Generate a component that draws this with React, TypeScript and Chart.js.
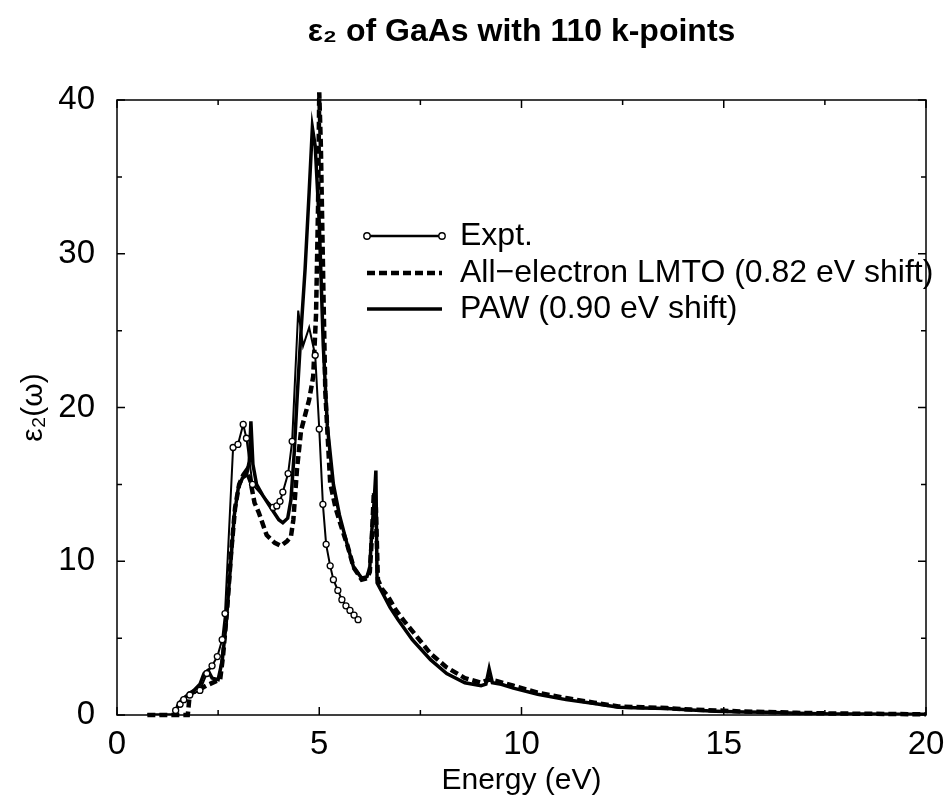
import React, { useEffect, useRef } from "react";
import { Chart, registerables } from "chart.js";

Chart.register(...registerables);

// Experimental spectrum (energy in eV, eps2); markers only where data points were measured
const exptEnergy = [1.45, 1.56, 1.65, 1.8, 2.05, 2.22, 2.35, 2.48, 2.6, 2.67, 2.87, 2.99, 3.12, 3.2, 3.35, 3.86, 3.95, 4.03, 4.1, 4.23, 4.33, 4.48, 4.6, 4.75, 4.9, 5.0, 5.09, 5.17, 5.27, 5.35, 5.46, 5.56, 5.66, 5.76, 5.86, 5.96];
const exptEps2 = [0.3, 0.7, 1.0, 1.3, 1.6, 2.7, 3.2, 3.8, 4.9, 6.6, 17.4, 17.6, 18.9, 18.0, 15.0, 13.5, 13.6, 13.9, 14.5, 15.7, 17.8, 26.3, 24.0, 25.2, 23.4, 18.6, 13.7, 11.1, 9.7, 8.8, 8.1, 7.5, 7.1, 6.8, 6.5, 6.2];
const exptMarked = [true, true, true, true, true, true, true, true, true, true, true, true, true, true, true, true, true, true, true, true, true, false, false, false, true, true, true, true, true, true, true, true, true, true, true, true];

// All-electron LMTO (0.82 eV shift)
const lmtoEnergy = [0.75, 1.75, 1.8, 2.0, 2.2, 2.45, 2.55, 2.62, 2.72, 2.82, 2.92, 3.02, 3.12, 3.2, 3.3, 3.4, 3.5, 3.7, 3.9, 4.05, 4.2, 4.3, 4.36, 4.45, 4.55, 4.65, 4.75, 4.85, 4.92, 4.97, 5.0, 5.04, 5.1, 5.15, 5.2, 5.27, 5.4, 5.55, 5.7, 5.85, 6.05, 6.18, 6.25, 6.3, 6.35, 6.4, 6.45, 6.55, 6.7, 6.9, 7.1, 7.35, 7.75, 8.15, 8.6, 9.0, 9.2, 9.4, 9.8, 10.4, 11.1, 11.8, 12.4, 13.0, 13.6, 14.2, 14.8, 15.5, 16.1, 16.8, 17.7, 18.5, 19.3, 20];
const lmtoEps2 = [0, 0, 1.4, 1.6, 1.9, 2.2, 2.3, 3.8, 6.8, 10.5, 13.5, 15.0, 15.6, 15.9, 15.2, 13.8, 13.2, 11.7, 11.2, 11.0, 11.3, 11.6, 12.7, 16.0, 18.5, 19.5, 20.5, 22.0, 26.0, 33.0, 40.5, 37.0, 28.0, 21.0, 18.5, 15.1, 13.5, 12.2, 11.0, 9.6, 8.8, 8.9, 9.3, 11.5, 14.5, 13.5, 8.8, 8.2, 7.7, 6.8, 6.1, 5.3, 4.0, 3.1, 2.4, 2.1, 2.3, 2.2, 1.9, 1.45, 1.1, 0.8, 0.55, 0.5, 0.45, 0.35, 0.3, 0.22, 0.2, 0.14, 0.1, 0.08, 0.06, 0.05];

// PAW (0.90 eV shift)
const pawEnergy = [0.75, 1.45, 1.5, 1.6, 1.75, 1.9, 2.05, 2.15, 2.25, 2.35, 2.5, 2.6, 2.7, 2.8, 2.9, 3.0, 3.1, 3.2, 3.27, 3.31, 3.36, 3.45, 3.6, 3.8, 4.0, 4.1, 4.22, 4.3, 4.38, 4.45, 4.55, 4.65, 4.75, 4.83, 4.9, 5.0, 5.1, 5.2, 5.35, 5.5, 5.7, 5.85, 6.05, 6.18, 6.25, 6.3, 6.36, 6.4, 6.43, 6.55, 6.75, 6.95, 7.3, 7.75, 8.15, 8.6, 9.0, 9.12, 9.2, 9.28, 9.5, 9.8, 10.4, 11.1, 11.8, 12.4, 13.0, 13.6, 14.2, 14.8, 15.5, 16.1, 16.8, 17.7, 18.5, 19.3, 20];
const pawEps2 = [0, 0, 0.6, 1.0, 1.3, 1.6, 2.0, 2.7, 2.9, 2.4, 2.3, 3.5, 6.0, 9.5, 13.0, 14.8, 15.4, 15.6, 16.5, 19.1, 16.3, 15.0, 14.3, 13.5, 12.7, 12.5, 12.8, 14.0, 17.0, 20.5, 25.0, 29.0, 34.0, 38.2, 37.0, 32.0, 24.0, 18.8, 15.0, 13.0, 11.0, 9.6, 8.9, 9.0, 9.6, 12.0, 14.0, 15.9, 8.6, 8.0, 7.0, 6.2, 4.9, 3.6, 2.7, 2.1, 1.9, 2.0, 3.0, 2.1, 2.0, 1.75, 1.35, 1.0, 0.75, 0.5, 0.45, 0.42, 0.32, 0.25, 0.2, 0.18, 0.12, 0.07, 0.06, 0.05, 0.05];

const xMajorTicks = [0, 5, 10, 15, 20];
const xMinorTicks = [2.5, 7.5, 12.5, 17.5];
const yMajorTicks = [0, 10, 20, 30, 40];
const yMinorTicks = [5, 15, 25, 35];

const titleText = "ε₂ of GaAs with 110 k-points";
const xTitle = "Energy (eV)";
const yTitle = "ε₂(ω)";
const legendLabels = ["Expt.", "All−electron LMTO (0.82 eV shift)", "PAW (0.90 eV shift)"];

const FONT = "'Liberation Sans', Arial, Helvetica, sans-serif";

const toPoints = (xs: number[], ys: number[]) => xs.map((x, i) => ({ x, y: ys[i] }));

// Box frame with inward major/minor ticks on all four sides
const framePlugin = {
  id: "frameTicks",
  beforeDatasetsDraw(chart: any) {
    const { ctx, chartArea: a, scales } = chart;
    const xs = scales.x;
    const ys = scales.y;
    ctx.save();
    ctx.strokeStyle = "#000";
    ctx.lineWidth = 1.5;
    ctx.strokeRect(a.left, a.top, a.right - a.left, a.bottom - a.top);
    const drawX = (v: number, len: number) => {
      const px = xs.getPixelForValue(v);
      ctx.beginPath();
      ctx.moveTo(px, a.bottom);
      ctx.lineTo(px, a.bottom - len);
      ctx.moveTo(px, a.top);
      ctx.lineTo(px, a.top + len);
      ctx.stroke();
    };
    const drawY = (v: number, len: number) => {
      const py = ys.getPixelForValue(v);
      ctx.beginPath();
      ctx.moveTo(a.left, py);
      ctx.lineTo(a.left + len, py);
      ctx.moveTo(a.right, py);
      ctx.lineTo(a.right - len, py);
      ctx.stroke();
    };
    xMajorTicks.forEach((v) => drawX(v, 8));
    xMinorTicks.forEach((v) => drawX(v, 5));
    yMajorTicks.forEach((v) => drawY(v, 8));
    yMinorTicks.forEach((v) => drawY(v, 5));
    ctx.restore();
  },
};

// Legend drawn inside the plot box with the three line samples
const legendPlugin = {
  id: "innerLegend",
  afterDatasetsDraw(chart: any) {
    const { ctx } = chart;
    const x0 = 367;
    const x1 = 442;
    const rows = [236, 273, 309];
    ctx.save();
    ctx.strokeStyle = "#000";
    ctx.lineCap = "butt";

    ctx.lineWidth = 2.5;
    ctx.beginPath();
    ctx.moveTo(x0, rows[0]);
    ctx.lineTo(x1, rows[0]);
    ctx.stroke();
    [x0, x1].forEach((cx) => {
      ctx.beginPath();
      ctx.arc(cx, rows[0], 3.2, 0, Math.PI * 2);
      ctx.fillStyle = "#fff";
      ctx.fill();
      ctx.lineWidth = 1.4;
      ctx.stroke();
    });

    ctx.lineWidth = 4.5;
    ctx.setLineDash([8, 4]);
    ctx.beginPath();
    ctx.moveTo(x0, rows[1]);
    ctx.lineTo(x1, rows[1]);
    ctx.stroke();
    ctx.setLineDash([]);

    ctx.lineWidth = 3.5;
    ctx.beginPath();
    ctx.moveTo(x0, rows[2]);
    ctx.lineTo(x1, rows[2]);
    ctx.stroke();

    ctx.fillStyle = "#000";
    ctx.font = `32px ${FONT}`;
    ctx.textBaseline = "middle";
    ctx.textAlign = "left";
    legendLabels.forEach((t, i) => ctx.fillText(t, 460, rows[i]));
    ctx.restore();
  },
};

export default function App() {
  const canvasRef = useRef<HTMLCanvasElement | null>(null);

  useEffect(() => {
    const canvas = canvasRef.current;
    if (!canvas) return;
    const chart = new Chart(canvas, {
      type: "line",
      data: {
        datasets: [
          {
            label: legendLabels[0],
            data: toPoints(exptEnergy, exptEps2),
            borderColor: "#000",
            borderWidth: 2,
            pointRadius: (c: any) => (exptMarked[c.dataIndex] ? 3 : 0),
            pointBackgroundColor: "#fff",
            pointBorderColor: "#000",
            pointBorderWidth: 1.3,
            tension: 0,
            fill: false,
          },
          {
            label: legendLabels[1],
            data: toPoints(lmtoEnergy, lmtoEps2),
            borderColor: "#000",
            borderWidth: 4.5,
            borderDash: [8, 4],
            pointRadius: 0,
            tension: 0,
            fill: false,
            clip: false,
          },
          {
            label: legendLabels[2],
            data: toPoints(pawEnergy, pawEps2),
            borderColor: "#000",
            borderWidth: 3.5,
            pointRadius: 0,
            tension: 0,
            fill: false,
          },
        ],
      },
      options: {
        animation: false,
        responsive: false,
        devicePixelRatio: 1,
        layout: { padding: { left: 0, right: 21, top: 0, bottom: 0 } },
        plugins: {
          legend: { display: false },
          tooltip: { enabled: false },
          title: {
            display: true,
            text: titleText,
            fullSize: false,
            color: "#000",
            font: { family: FONT, size: 32, weight: "bold", lineHeight: 1.2 },
            padding: { top: 13, bottom: 48.6 },
          },
        },
        scales: {
          x: {
            type: "linear",
            min: 0,
            max: 20,
            grid: { display: false, drawTicks: false },
            border: { display: false },
            afterBuildTicks: (s: any) => {
              s.ticks = xMajorTicks.map((v) => ({ value: v }));
            },
            afterFit: (s: any) => {
              s.height = 89;
              s.paddingLeft = 0;
              s.paddingRight = 0;
            },
            ticks: {
              color: "#000",
              font: { family: FONT, size: 33 },
              padding: 10,
              maxRotation: 0,
              autoSkip: false,
            },
            title: {
              display: true,
              text: xTitle,
              color: "#000",
              font: { family: FONT, size: 30, lineHeight: 1.2 },
              padding: { top: 0, bottom: 5 },
            },
          },
          y: {
            type: "linear",
            min: 0,
            max: 40,
            grid: { display: false, drawTicks: false },
            border: { display: false },
            afterBuildTicks: (s: any) => {
              s.ticks = yMajorTicks.map((v) => ({ value: v }));
            },
            afterFit: (s: any) => {
              s.width = 117;
            },
            ticks: {
              color: "#000",
              font: { family: FONT, size: 33 },
              padding: 22,
              autoSkip: false,
            },
            title: {
              display: true,
              text: yTitle,
              color: "#000",
              font: { family: FONT, size: 30, lineHeight: 1.2 },
              padding: { top: 16, bottom: 0 },
            },
          },
        },
      },
      plugins: [framePlugin, legendPlugin],
    } as any);
    return () => chart.destroy();
  }, []);

  return (
    <div style={{ position: "fixed", left: 0, top: 0, width: 947, height: 804, background: "#fff" }}>
      <canvas ref={canvasRef} width={947} height={804} style={{ display: "block" }} />
    </div>
  );
}
